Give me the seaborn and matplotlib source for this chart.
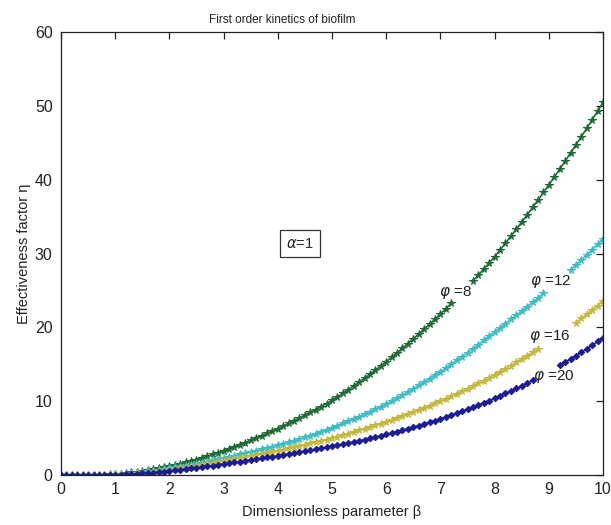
import numpy as np
import pandas as pd
import matplotlib
matplotlib.use("Agg")
import matplotlib.pyplot as plt
import seaborn as sns

sns.set_theme(style="white")
plt.rcParams["font.family"] = ["Liberation Sans", "DejaVu Sans"]
plt.rcParams["mathtext.fontset"] = "dejavusans"

# Dimensionless parameter beta, sampled every 0.1 from 0 to 10
beta = np.round(np.linspace(0, 10, 101), 1)

# Effectiveness factor eta for each modulus phi
eta_phi8 = [
    0, 0, 0, 0, 0, 0.01, 0.02, 0.03, 0.05, 0.08, 0.15,
    0.20, 0.27, 0.35, 0.45, 0.55, 0.67, 0.80, 0.92, 1.05, 1.20,
    1.36, 1.53, 1.71, 1.90, 2.10, 2.31, 2.54, 2.78, 3.03, 3.30,
    3.56, 3.83, 4.11, 4.40, 4.70, 5.00, 5.31, 5.63, 5.96, 6.30,
    6.64, 6.99, 7.35, 7.72, 8.10, 8.48, 8.87, 9.27, 9.68, 10.10,
    10.57, 11.05, 11.54, 12.05, 12.57, 13.10, 13.64, 14.19, 14.76, 15.35,
    15.95, 16.56, 17.18, 17.81, 18.45, 19.10, 19.76, 20.43, 21.11, 21.80,
    22.52, 23.25, 23.99, 24.75, 25.52, 26.30, 27.09, 27.90, 28.72, 29.56,
    30.48, 31.41, 32.35, 33.30, 34.27, 35.25, 36.24, 37.25, 38.27, 39.30,
    40.36, 41.43, 42.51, 43.61, 44.72, 45.84, 46.97, 48.12, 49.29, 50.48,
]
eta_phi12 = [
    0, 0, 0, 0, 0, 0, 0.01, 0.02, 0.04, 0.06, 0.10,
    0.14, 0.19, 0.25, 0.32, 0.40, 0.49, 0.58, 0.68, 0.79, 0.90,
    1.02, 1.14, 1.27, 1.40, 1.54, 1.68, 1.82, 1.98, 2.14, 2.30,
    2.46, 2.62, 2.78, 2.95, 3.12, 3.29, 3.46, 3.64, 3.82, 4.00,
    4.21, 4.42, 4.64, 4.87, 5.11, 5.35, 5.60, 5.86, 6.13, 6.40,
    6.69, 6.99, 7.29, 7.60, 7.91, 8.23, 8.56, 8.90, 9.25, 9.60,
    10.00, 10.41, 10.83, 11.26, 11.70, 12.15, 12.60, 13.06, 13.53, 14.00,
    14.50, 15.01, 15.53, 16.05, 16.58, 17.12, 17.67, 18.23, 18.80, 19.40,
    19.95, 20.51, 21.07, 21.64, 22.22, 22.80, 23.39, 23.98, 24.59, 25.20,
    25.83, 26.47, 27.12, 27.78, 28.45, 29.13, 29.82, 30.52, 31.25, 32.00,
]
eta_phi16 = [
    0, 0, 0, 0, 0, 0, 0, 0.01, 0.02, 0.03, 0.05,
    0.08, 0.12, 0.16, 0.21, 0.27, 0.34, 0.42, 0.51, 0.60, 0.70,
    0.80, 0.90, 1.01, 1.12, 1.23, 1.35, 1.47, 1.60, 1.75, 1.90,
    2.03, 2.16, 2.29, 2.43, 2.57, 2.71, 2.85, 3.00, 3.15, 3.30,
    3.45, 3.61, 3.77, 3.93, 4.10, 4.27, 4.44, 4.62, 4.81, 5.00,
    5.20, 5.41, 5.62, 5.83, 6.05, 6.27, 6.49, 6.72, 6.96, 7.20,
    7.46, 7.72, 7.99, 8.26, 8.54, 8.82, 9.11, 9.40, 9.70, 10.00,
    10.32, 10.65, 10.99, 11.33, 11.68, 12.04, 12.41, 12.79, 13.19, 13.60,
    14.00, 14.41, 14.83, 15.26, 15.70, 16.15, 16.60, 17.06, 17.53, 18.00,
    18.51, 19.03, 19.56, 20.10, 20.65, 21.21, 21.78, 22.36, 22.96, 23.60,
]
eta_phi20 = [
    0, 0, 0, 0, 0, 0, 0, 0.01, 0.02, 0.03, 0.05,
    0.07, 0.10, 0.13, 0.17, 0.21, 0.26, 0.32, 0.39, 0.47, 0.55,
    0.63, 0.71, 0.80, 0.89, 0.98, 1.07, 1.17, 1.27, 1.38, 1.50,
    1.61, 1.72, 1.83, 1.94, 2.05, 2.16, 2.27, 2.38, 2.49, 2.60,
    2.72, 2.84, 2.96, 3.09, 3.22, 3.35, 3.48, 3.62, 3.76, 3.90,
    4.04, 4.18, 4.33, 4.48, 4.63, 4.79, 4.95, 5.13, 5.31, 5.50,
    5.69, 5.88, 6.08, 6.28, 6.49, 6.70, 6.92, 7.14, 7.37, 7.60,
    7.85, 8.11, 8.37, 8.64, 8.91, 9.19, 9.48, 9.77, 10.08, 10.40,
    10.72, 11.05, 11.39, 11.73, 12.08, 12.44, 12.81, 13.19, 13.59, 14.00,
    14.42, 14.85, 15.29, 15.73, 16.18, 16.64, 17.11, 17.59, 18.09, 18.60,
]

phi_values = [8, 12, 16, 20]
curve_labels = [r"$\varphi$ =8", r"$\varphi$ =12", r"$\varphi$ =16", r"$\varphi$ =20"]
# beta range left blank on each curve where its label sits
label_gaps = [(7.25, 7.55), (8.95, 9.35), (8.85, 9.45), (8.75, 9.15)]
label_pos = [(6.98, 24.7), (8.65, 26.2), (8.63, 18.8), (8.71, 13.4)]

colors = ["#1f6b35", "#3cbcc4", "#c4b83c", "#1c1c94"]
markers = ["*", "*", "*", "D"]
msizes = [5.5, 5.5, 5.5, 3.2]

fig = plt.figure(figsize=(6.11, 5.25), dpi=100)
ax = fig.add_axes([0.0998, 0.0952, 0.8872, 0.8438])

for eta, phi, gap, col, mk, ms in zip(
    [eta_phi8, eta_phi12, eta_phi16, eta_phi20], phi_values, label_gaps, colors, markers, msizes
):
    df = pd.DataFrame({"beta": beta, "eta": eta})
    inside = (df["beta"] >= gap[0]) & (df["beta"] <= gap[1])
    df["seg"] = (df["beta"] > gap[1]).astype(int)
    df = df[~inside]
    for _, part in df.groupby("seg"):
        sns.lineplot(data=part, x="beta", y="eta", ax=ax, color=col, lw=1.2,
                     marker=mk, markersize=ms, markeredgewidth=0.8,
                     markeredgecolor=col, legend=False, sort=False)

for (bx, by), txt in zip(label_pos, curve_labels):
    ax.text(bx, by, txt, fontsize=11, ha="left", va="center", color="#222222")

ax.text(4.41, 31.3, r"$\alpha$=1", fontsize=10.5, ha="center", va="center",
        bbox=dict(boxstyle="square,pad=0.45", fc="white", ec="#333333", lw=0.9))

ax.set_xlim(0, 10)
ax.set_ylim(0, 60)
ax.set_xticks(range(0, 11))
ax.set_yticks(range(0, 61, 10))
ax.tick_params(direction="in", length=5, width=0.9, labelsize=11.5,
               top=True, right=True, colors="#222222")
ax.tick_params(axis="x", pad=5)
ax.tick_params(axis="y", pad=6)
for s in ax.spines.values():
    s.set_color("#222222")
    s.set_linewidth(0.9)
ax.set_xlabel("Dimensionless parameter β", fontsize=10.5, labelpad=6, color="#222222")
ax.set_ylabel("Effectiveness factor η", fontsize=10.5, labelpad=3, color="#222222")
fig.text(282 / 611, 1 - 20 / 525, "First order kinetics of biofilm", fontsize=8.5,
         ha="center", va="center", color="#222222")

fig.savefig("out.png", dpi=100)
